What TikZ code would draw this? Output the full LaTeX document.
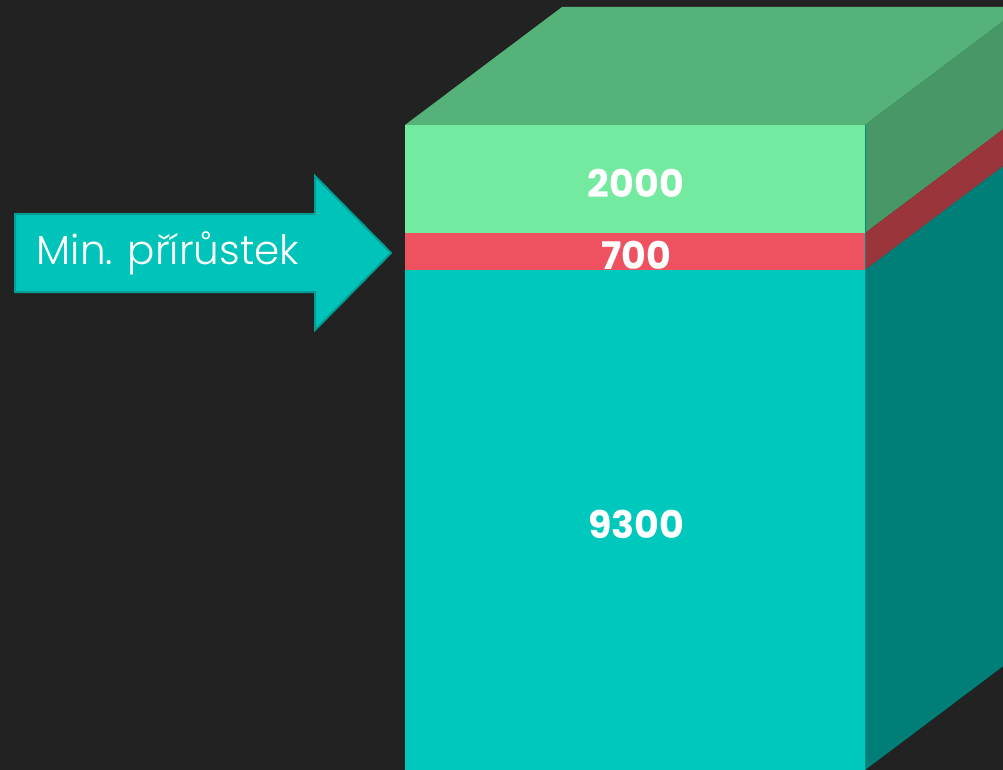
\documentclass[tikz,border=0pt]{standalone}
\usepackage{fontspec}
\setsansfont{Poppins}
\newfontfamily\lightfont{Poppins Light}
\definecolor{bg}{HTML}{222222}
\definecolor{topg}{HTML}{55B37A}
\definecolor{sideg}{HTML}{479866}
\definecolor{frontg}{HTML}{73EAA0}
\definecolor{redf}{HTML}{EE5260}
\definecolor{reds}{HTML}{9A353C}
\definecolor{tealf}{HTML}{00C8BD}
\definecolor{teals}{HTML}{007F78}
\definecolor{arrowfill}{HTML}{00C4B9}
\definecolor{arrowline}{HTML}{009E94}
\begin{document}
\begin{tikzpicture}[x=1pt,y=-1pt,
  num/.style={text=white,font=\sffamily\bfseries\fontsize{38}{40}\selectfont,inner sep=0pt},
  lbl/.style={text=white,font=\lightfont\fontsize{40.5}{44}\selectfont,inner sep=0pt}]
\fill[bg] (0,0) rectangle (1003,770);
\useasboundingbox (0,0) rectangle (1003,770);
\begin{scope}
\clip (0,0) rectangle (1003,770);
% top face
\fill[topg] (405,125) -- (562,7) -- (1022,7) -- (865,125) -- cycle;
% right side
\fill[sideg] (865,125) -- (1022,7) -- (1022,115) -- (865,233) -- cycle;
\fill[reds] (865,233) -- (1022,115) -- (1022,152) -- (865,270) -- cycle;
\fill[teals] (865,270) -- (1022,152) -- (1022,652) -- (865,770) -- cycle;
% front face
\fill[frontg] (405,125) rectangle (865,233);
\fill[redf] (405,233) rectangle (865,270);
\fill[tealf] (405,270) rectangle (865,775);
\draw[black!30!tealf,line width=0.8pt] (865,125) -- (865,775);
\end{scope}
% arrow
\draw[fill=arrowfill,draw=arrowline,line width=2pt]
  (15,214) -- (315,214) -- (315,176) -- (391,253) -- (315,330) -- (315,292) -- (15,292) -- cycle;
\node[lbl] (label) at (168,253) {Min. přírůstek};
\node[num] (n2000) at (636,183) {2000};
\node[num] (n700) at (636,255) {700};
\node[num] (n9300) at (636,524) {9300};
\end{tikzpicture}
\end{document}
